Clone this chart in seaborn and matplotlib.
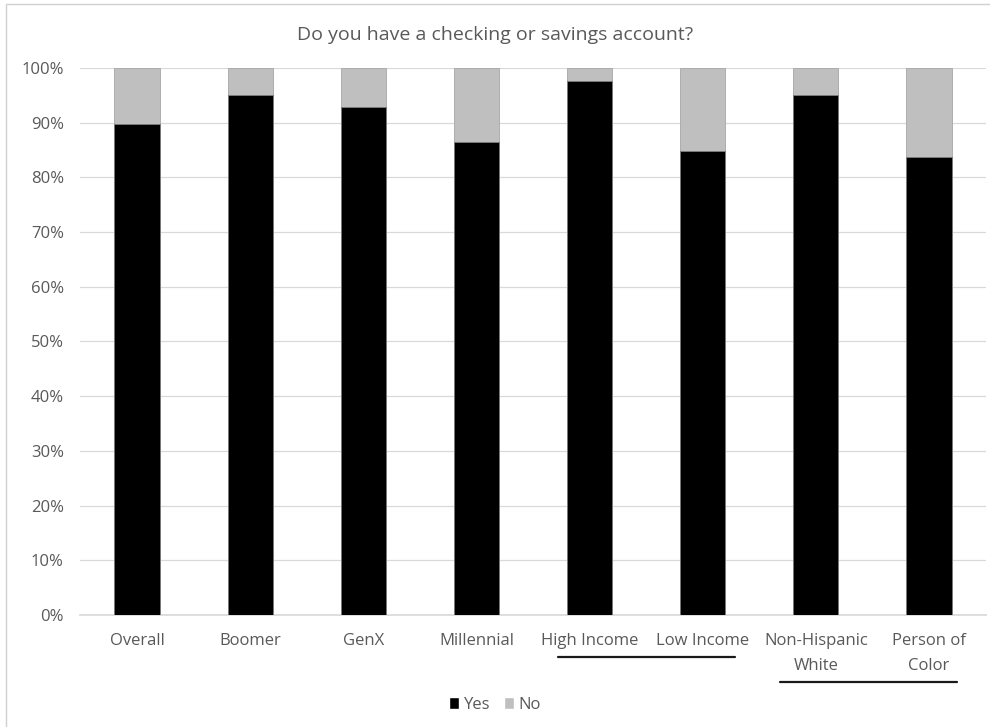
import matplotlib
matplotlib.use("Agg")
import matplotlib.pyplot as plt
from matplotlib.patches import Patch, Rectangle
from matplotlib.lines import Line2D
import pandas as pd
import seaborn as sns

# Chart data (share of respondents)
groups = ["Overall", "Boomer", "GenX", "Millennial", "High Income",
          "Low Income", "Non-Hispanic\nWhite", "Person of\nColor"]
yes = [0.898, 0.951, 0.929, 0.865, 0.976, 0.848, 0.950, 0.837]
no = [0.102, 0.049, 0.071, 0.135, 0.024, 0.152, 0.050, 0.163]

df = pd.DataFrame({"group": groups, "yes": yes, "no": no})
df["total"] = df["yes"] + df["no"]

sns.set_theme(style="white")
plt.rcParams["font.family"] = ["Open Sans", "DejaVu Sans"]
grey_txt = "#595959"

fig = plt.figure(figsize=(9.9, 7.27), dpi=100)
ax = fig.add_axes([0.0813, 0.1541, 0.9142, 0.7524])

# stacked: grey total behind, black "yes" in front
sns.barplot(data=df, x="group", y="total", color="#bfbfbf", width=0.4,
            edgecolor="#a6a6a6", linewidth=0.6, saturation=1, ax=ax, zorder=2)
sns.barplot(data=df, x="group", y="yes", color="black", width=0.4,
            edgecolor="#7f7f7f", linewidth=0.6, saturation=1, ax=ax, zorder=3)

ax.set_ylim(0, 1)
ax.set_xlim(-0.5, len(groups) - 0.5)
ax.set_yticks([i / 10 for i in range(11)])
ax.set_yticklabels([f"{i * 10}%" for i in range(11)])
ax.yaxis.grid(True, color="#d9d9d9", linewidth=0.9, zorder=0)
ax.set_axisbelow(True)
for s in ["top", "right", "left"]:
    ax.spines[s].set_visible(False)
ax.spines["bottom"].set_color("#d9d9d9")
ax.tick_params(axis="both", length=0, labelsize=12, labelcolor=grey_txt)
ax.tick_params(axis="y", pad=12)
ax.tick_params(axis="x", pad=13)
ax.set_xlabel("")
ax.set_ylabel("")
for lbl in ax.get_xticklabels():
    lbl.set_linespacing(1.75)

fig.text(0.5, 0.952, "Do you have a checking or savings account?",
         ha="center", va="center", fontsize=14, color=grey_txt)

# underline groupings
fig.add_artist(Line2D([558 / 990, 735 / 990], [1 - 657 / 727, 1 - 657 / 727],
                      color="#1a1a1a", linewidth=1.6))
fig.add_artist(Line2D([780 / 990, 957 / 990], [1 - 682 / 727, 1 - 682 / 727],
                      color="#1a1a1a", linewidth=1.6))

# chart frame
fig.add_artist(Rectangle((6 / 990, -0.05), 1.2, 1 - 4 / 727 + 0.05,
                         transform=fig.transFigure, fill=False,
                         edgecolor="#d0d0d0", linewidth=1.0))

handles = [Patch(facecolor="black", label="Yes"),
           Patch(facecolor="#bfbfbf", label="No")]
fig.legend(handles=handles, loc="center", bbox_to_anchor=(0.5, 1 - 705 / 727),
           ncol=2, frameon=False, fontsize=12, labelcolor=grey_txt,
           handlelength=0.6, handleheight=0.7, handletextpad=0.3,
           columnspacing=0.8)

fig.savefig("out.png", dpi=100)
